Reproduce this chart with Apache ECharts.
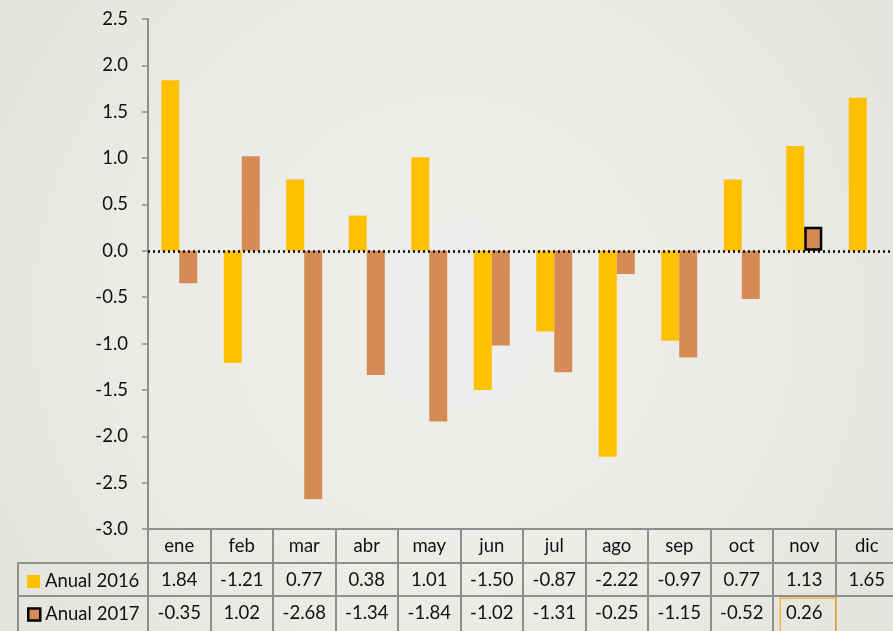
<!DOCTYPE html>
<html><head><meta charset="utf-8">
<script src="https://cdn.jsdelivr.net/npm/echarts@6/dist/echarts.min.js"></script>
<style>html,body{margin:0;padding:0;background:#ebebe8;overflow:hidden}#c{width:898px;height:631px}</style>
</head><body><div id="c"></div>
<script>
var months = ['ene','feb','mar','abr','may','jun','jul','ago','sep','oct','nov','dic'];
var anual2016 = [1.84,-1.21,0.77,0.38,1.01,-1.50,-0.87,-2.22,-0.97,0.77,1.13,1.65];
var anual2017 = [-0.35,1.02,-2.68,-1.34,-1.84,-1.02,-1.31,-0.25,-1.15,-0.52,0.26,null];
var yTicks = {min:-3, max:2.5, interval:0.5};
var seriesNames = ['Anual 2016','Anual 2017'];

var FONT = 'Lato';
var FS = 18.5;
var grey = '#8f8f8f';
var chart = echarts.init(document.getElementById('c'));
function fmt(arr){ return function(v, i){ var x = arr[i]; return (x === null || x === undefined) ? '' : x.toFixed(2); }; }
var d2017 = anual2017.map(function(v, i){
  if (months[i] === 'nov') return {value: v, itemStyle:{borderColor:'#000', borderWidth:2.5}};
  return v;
});
var legText = {fontFamily:FONT, fontSize:FS, color:'#111'};
chart.setOption({
  backgroundColor: {type:'radial', x:0.5, y:0.5, r:0.8, colorStops:[{offset:0,color:'#eeeeec'},{offset:0.6,color:'#ebebe8'},{offset:1,color:'#e4e4e1'}]},
  animation:false,
  textStyle:{fontFamily:FONT},
  grid:{left:148, top:19, right:0, bottom:102, containLabel:false},
  legend:[
    {left:22, top:567, itemWidth:13, itemHeight:13, itemGap:4, icon:'rect', textStyle:legText,
     data:[{name:seriesNames[0]}]},
    {left:22, top:600, itemWidth:12, itemHeight:12, itemGap:4, icon:'rect', textStyle:legText,
     itemStyle:{color:'#D68B55', borderColor:'#000', borderWidth:2.5},
     data:[{name:seriesNames[1], itemStyle:{color:'#D68B55', borderColor:'#000', borderWidth:2.5}}]}
  ],
  xAxis:[
    {type:'category', data:months, position:'bottom', offset:0,
     axisLine:{onZero:false, lineStyle:{color:grey, width:2}},
     axisTick:{show:true, length:102, interval:0, lineStyle:{color:grey, width:2}},
     axisLabel:{interval:0, margin:8, fontSize:FS, color:'#111', fontFamily:FONT}},
    {type:'category', data:months, position:'bottom', offset:34,
     axisLine:{onZero:false, lineStyle:{color:grey, width:2}}, axisTick:{show:false},
     axisLabel:{interval:0, margin:8, fontSize:FS, color:'#111', fontFamily:FONT, formatter:fmt(anual2016)}},
    {type:'category', data:months, position:'bottom', offset:67,
     axisLine:{onZero:false, lineStyle:{color:grey, width:2}}, axisTick:{show:false},
     axisLabel:{interval:0, margin:8, fontSize:FS, color:'#111', fontFamily:FONT, formatter:fmt(anual2017)}}
  ],
  yAxis:{type:'value', min:yTicks.min, max:yTicks.max, interval:yTicks.interval,
    axisLine:{show:true, lineStyle:{color:grey, width:2}},
    axisTick:{show:true, length:6, lineStyle:{color:grey, width:1.5}},
    splitLine:{show:false},
    axisLabel:{fontSize:FS, color:'#111', margin:20, fontFamily:FONT, formatter:function(v){return v.toFixed(1);}}},
  series:[
    {name:seriesNames[0], type:'bar', data:anual2016, barWidth:18, barGap:'0%', itemStyle:{color:'#FFC000'},
     markLine:{silent:true, symbol:'none', label:{show:false}, data:[{yAxis:0}], lineStyle:{color:'#000', type:[2,3], width:2.5}}},
    {name:seriesNames[1], type:'bar', data:d2017, barWidth:18, barGap:'0%', itemStyle:{color:'#D68B55'}}
  ]
});
var nx = chart.convertToPixel({xAxisIndex:0}, 'nov');
var y0 = chart.convertToPixel({yAxisIndex:0}, yTicks.min);
chart.setOption({graphic:[
  {type:'rect', z:100, silent:true, shape:{x:18, y:y0+34, width:130, height:110}, style:{fill:'none', stroke:grey, lineWidth:2}},
  {type:'line', z:100, silent:true, shape:{x1:18, y1:y0+67, x2:148, y2:y0+67}, style:{stroke:grey, lineWidth:2}},
  {type:'rect', z:101, silent:true, shape:{x:nx-24, y:y0+69, width:56, height:40}, style:{fill:'none', stroke:'#F2B632', lineWidth:1.5}}
]});
</script></body></html>
